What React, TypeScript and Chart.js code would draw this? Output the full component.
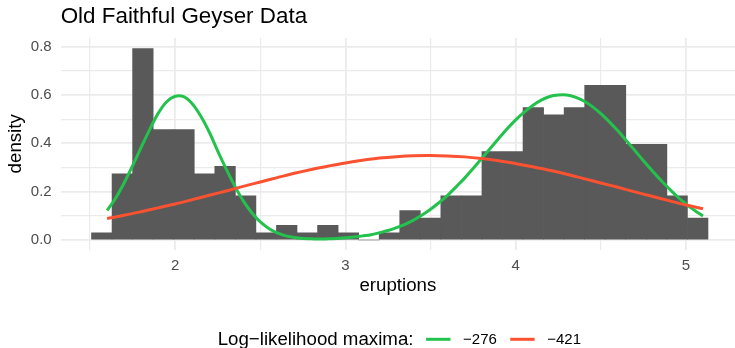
import { useEffect, useRef } from "react";
import { Chart, registerables } from "chart.js";

Chart.register(...registerables);

const FONT = '"Liberation Sans", Arial, Helvetica, sans-serif';

// Histogram of eruption durations: 30 equal-width bins, density scale
const binStart = 1.5086;
const binWidth = 0.12069;
const binDensity = [
  0.030, 0.274, 0.792, 0.457, 0.457, 0.274, 0.305, 0.183, 0.030, 0.061,
  0.030, 0.061, 0.030, 0.000, 0.030, 0.122, 0.091, 0.183, 0.183, 0.366,
  0.366, 0.548, 0.518, 0.548, 0.640, 0.640, 0.396, 0.396, 0.183, 0.091,
];

// Two-component normal mixture fit (log-likelihood -276), sampled every 0.05 from 1.6
const mixStart = 1.6;
const mixStep = 0.05;
const mixDensity = [
  0.122, 0.173, 0.236, 0.308, 0.383, 0.457, 0.524, 0.572, 0.595, 0.593,
  0.564, 0.513, 0.447, 0.368, 0.293, 0.223, 0.162, 0.113, 0.075, 0.048,
  0.029, 0.017, 0.010, 0.006, 0.005, 0.004, 0.005, 0.006, 0.009, 0.012,
  0.017, 0.022, 0.030, 0.039, 0.051, 0.065, 0.082, 0.103, 0.127, 0.155,
  0.185, 0.220, 0.256, 0.296, 0.337, 0.379, 0.420, 0.460, 0.497, 0.529,
  0.557, 0.579, 0.594, 0.600, 0.600, 0.591, 0.575, 0.552, 0.523, 0.489,
  0.452, 0.411, 0.370, 0.328, 0.288, 0.249, 0.213, 0.179, 0.149, 0.123,
  0.099,
];

// Single normal fit (log-likelihood -421), sampled every 0.1 from 1.6
const normStart = 1.6;
const normStep = 0.1;
const normDensity = [
  0.089, 0.102, 0.117, 0.133, 0.149, 0.167, 0.185, 0.203, 0.222, 0.240,
  0.258, 0.276, 0.292, 0.306, 0.319, 0.330, 0.339, 0.345, 0.349, 0.350,
  0.348, 0.344, 0.337, 0.328, 0.316, 0.303, 0.288, 0.272, 0.254, 0.236,
  0.218, 0.199, 0.181, 0.163, 0.145, 0.129,
];

const legendTitle = "Log\u2212likelihood maxima:";
const seriesLabels = ["\u2212276", "\u2212421"];
const seriesColors = ["#22C24C", "#FA5230"];

const xTicksMajor = [2, 3, 4, 5];
const yTicksMajor = [0, 0.2, 0.4, 0.6, 0.8];

const near = (v: number, list: number[]) => list.some((t) => Math.abs(t - v) < 1e-6);
const gridWidth = (list: number[]) => (c: any) =>
  c && c.tick && near(c.tick.value, list) ? 1.8 : 1.2;

const decorPlugin = {
  id: "decor",
  afterDraw(chart: any) {
    const ctx = chart.ctx as CanvasRenderingContext2D;
    const area = chart.chartArea;
    ctx.save();
    // plot title
    ctx.fillStyle = "#000";
    ctx.textBaseline = "alphabetic";
    ctx.textAlign = "left";
    ctx.font = `22.4px ${FONT}`;
    ctx.fillText("Old Faithful Geyser Data", area.left, 23.3);

    // bottom legend, centred under the panel
    ctx.font = `18.7px ${FONT}`;
    const titleW = ctx.measureText(legendTitle).width;
    ctx.font = `15px ${FONT}`;
    const labW = seriesLabels.map((l) => ctx.measureText(l).width);
    const keyW = 24.4;
    const gapTitle = 12.6;
    const gapKey = 12.6;
    const gapItem = 13.4;
    let total = titleW + gapTitle;
    labW.forEach((w, i) => {
      total += keyW + gapKey + w + (i < labW.length - 1 ? gapItem : 0);
    });
    const centre = (area.left + 738) / 2;
    let x = centre - total / 2;
    ctx.font = `18.7px ${FONT}`;
    ctx.fillText(legendTitle, x, 345);
    x += titleW + gapTitle;
    ctx.font = `15px ${FONT}`;
    seriesLabels.forEach((l, i) => {
      ctx.strokeStyle = seriesColors[i];
      ctx.lineWidth = 3;
      ctx.lineCap = "butt";
      ctx.beginPath();
      ctx.moveTo(x, 339.3);
      ctx.lineTo(x + keyW, 339.3);
      ctx.stroke();
      x += keyW + gapKey;
      ctx.fillStyle = "#000";
      ctx.fillText(l, x, 344.3);
      x += labW[i] + gapItem;
    });
    ctx.restore();
  },
};

export default function App() {
  const ref = useRef<HTMLCanvasElement>(null);

  useEffect(() => {
    const bars = binDensity.map((d, i) => ({ x: binStart + (i + 0.5) * binWidth, y: d }));
    const mix = mixDensity.map((d, i) => ({ x: mixStart + i * mixStep, y: d }));
    const norm = normDensity.map((d, i) => ({ x: normStart + i * normStep, y: d }));

    const chart = new Chart(ref.current!, {
      type: "bar",
      data: {
        datasets: [
          {
            type: "line",
            label: seriesLabels[1],
            data: norm,
            borderColor: seriesColors[1],
            borderWidth: 3,
            pointRadius: 0,
            tension: 0.35,
            fill: false,
            order: 1,
          } as any,
          {
            type: "line",
            label: seriesLabels[0],
            data: mix,
            borderColor: seriesColors[0],
            borderWidth: 3,
            pointRadius: 0,
            tension: 0.35,
            fill: false,
            order: 2,
          } as any,
          {
            type: "bar",
            label: "count",
            data: bars,
            backgroundColor: "#595959",
            borderWidth: 0,
            barPercentage: 1,
            categoryPercentage: 1,
            grouped: false,
            order: 3,
          } as any,
        ],
      },
      options: {
        responsive: false,
        animation: false,
        devicePixelRatio: 1,
        layout: { padding: { left: 0, right: 0, top: 38, bottom: 50.4 } },
        plugins: {
          legend: { display: false },
          title: { display: false },
          tooltip: { enabled: false },
        },
        scales: {
          x: {
            type: "linear",
            min: 1.3276,
            max: 5.288,
            offset: false,
            afterFit: (s: any) => {
              s.height = 48;
            },
            border: { display: false },
            grid: {
              color: "#EBEBEB",
              lineWidth: gridWidth(xTicksMajor),
              drawTicks: false,
              offset: false,
            },
            ticks: {
              stepSize: 0.5,
              includeBounds: false,
              autoSkip: false,
              maxRotation: 0,
              padding: 7,
              color: "#4D4D4D",
              font: { family: FONT, size: 15 },
              callback: (v: any) => (near(Number(v), xTicksMajor) ? String(Math.round(Number(v))) : ""),
            },
            title: {
              display: true,
              text: "eruptions",
              color: "#000",
              font: { family: FONT, size: 18.7 },
              padding: { top: 0, bottom: 1 },
            },
          },
          y: {
            type: "linear",
            min: -0.0398,
            max: 0.836,
            afterFit: (s: any) => {
              s.width = 60.7;
            },
            border: { display: false },
            grid: {
              color: "#EBEBEB",
              lineWidth: gridWidth(yTicksMajor),
              drawTicks: false,
            },
            ticks: {
              stepSize: 0.1,
              includeBounds: false,
              autoSkip: false,
              padding: 9,
              color: "#4D4D4D",
              font: { family: FONT, size: 15 },
              callback: (v: any) => (near(Number(v), yTicksMajor) ? Math.abs(Number(v)).toFixed(1) : ""),
            },
            title: {
              display: true,
              text: "density",
              color: "#000",
              font: { family: FONT, size: 18.7 },
              padding: { top: 5, bottom: 0 },
            },
          },
        },
      },
      plugins: [decorPlugin],
    });

    return () => chart.destroy();
  }, []);

  return (
    <div
      style={{
        position: "fixed",
        left: 0,
        top: 0,
        width: 735,
        height: 348,
        overflow: "hidden",
        background: "#fff",
      }}
    >
      <canvas ref={ref} width={735} height={348} style={{ display: "block", width: 735, height: 348 }} />
    </div>
  );
}
